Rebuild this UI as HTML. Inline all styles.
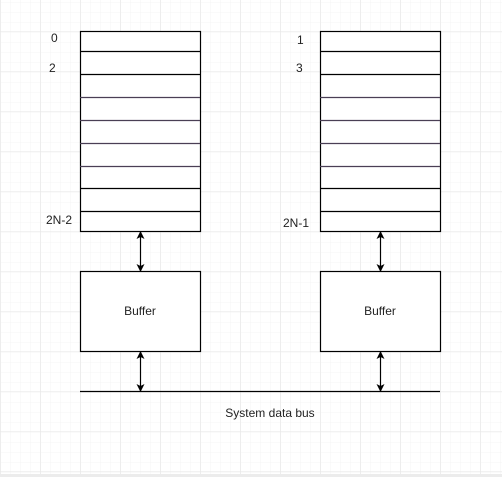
<!DOCTYPE html>
<html><head><meta charset="utf-8"><style>
html,body{margin:0;padding:0;background:#fff;}
svg{display:block;}
text{font-family:"Liberation Sans",Arial,sans-serif;font-size:12px;fill:#222;}
</style></head><body>
<svg width="502" height="477" viewBox="0 0 502 477" xmlns="http://www.w3.org/2000/svg">
<defs>
<pattern id="minor" width="10" height="10" patternUnits="userSpaceOnUse" x="0" y="1">
<path d="M10 0V10M0 10H10" fill="none" stroke="#f4f4f4" stroke-width="1"/>
</pattern>
<pattern id="major" width="40" height="40" patternUnits="userSpaceOnUse" x="0.5" y="31.5">
<rect width="40" height="40" fill="url(#minor)"/>
<path d="M0 0V40M0 0H40" fill="none" stroke="#e6e6e6" stroke-width="1"/>
</pattern>
<marker id="ah" markerWidth="8" markerHeight="8" refX="7" refY="4" orient="auto-start-reverse" markerUnits="userSpaceOnUse">
<path d="M0 0L8 4L0 8L2 4Z" fill="#000"/>
</marker>
</defs>
<rect width="502" height="477" fill="#fff"/>
<rect width="502" height="477" fill="url(#major)"/>
<rect x="0" y="474" width="502" height="3" fill="#ececec"/>
<g fill="#fff" stroke="#000" stroke-width="1.2">
<rect x="80.5" y="31.5" width="120" height="200"/>
<rect x="320.5" y="31.5" width="120" height="200"/>
<rect x="80.5" y="271.5" width="120" height="80"/>
<rect x="320.5" y="271.5" width="120" height="80"/>
</g>
<g stroke="#000" stroke-width="1.2">
<path d="M80 51.5H200M80 74.5H200M80 188.5H200M80 211.5H200M320 51.5H440M320 74.5H440M320 188.5H440M320 211.5H440"/>
</g>
<g stroke="#4a3f55" stroke-width="1.2">
<path d="M80 97.5H200M80 120.5H200M80 143.5H200M80 166.5H200M320 97.5H440M320 120.5H440M320 143.5H440M320 166.5H440"/>
</g>
<path d="M80 391.5H440" stroke="#000" stroke-width="1.2"/>
<g stroke="#000" stroke-width="1.2" marker-start="url(#ah)" marker-end="url(#ah)">
<line x1="140.5" y1="232" x2="140.5" y2="271"/>
<line x1="380.5" y1="232" x2="380.5" y2="271"/>
<line x1="140.5" y1="352" x2="140.5" y2="391"/>
<line x1="380.5" y1="352" x2="380.5" y2="391"/>
</g>
<text x="51" y="42">0</text>
<text x="49" y="72">2</text>
<text x="46" y="224">2N-2</text>
<text x="297" y="44">1</text>
<text x="296" y="72">3</text>
<text x="283" y="227">2N-1</text>
<text x="140" y="315" text-anchor="middle">Buffer</text>
<text x="380" y="315" text-anchor="middle">Buffer</text>
<text x="270" y="417" text-anchor="middle">System data bus</text>
</svg>
</body></html>
